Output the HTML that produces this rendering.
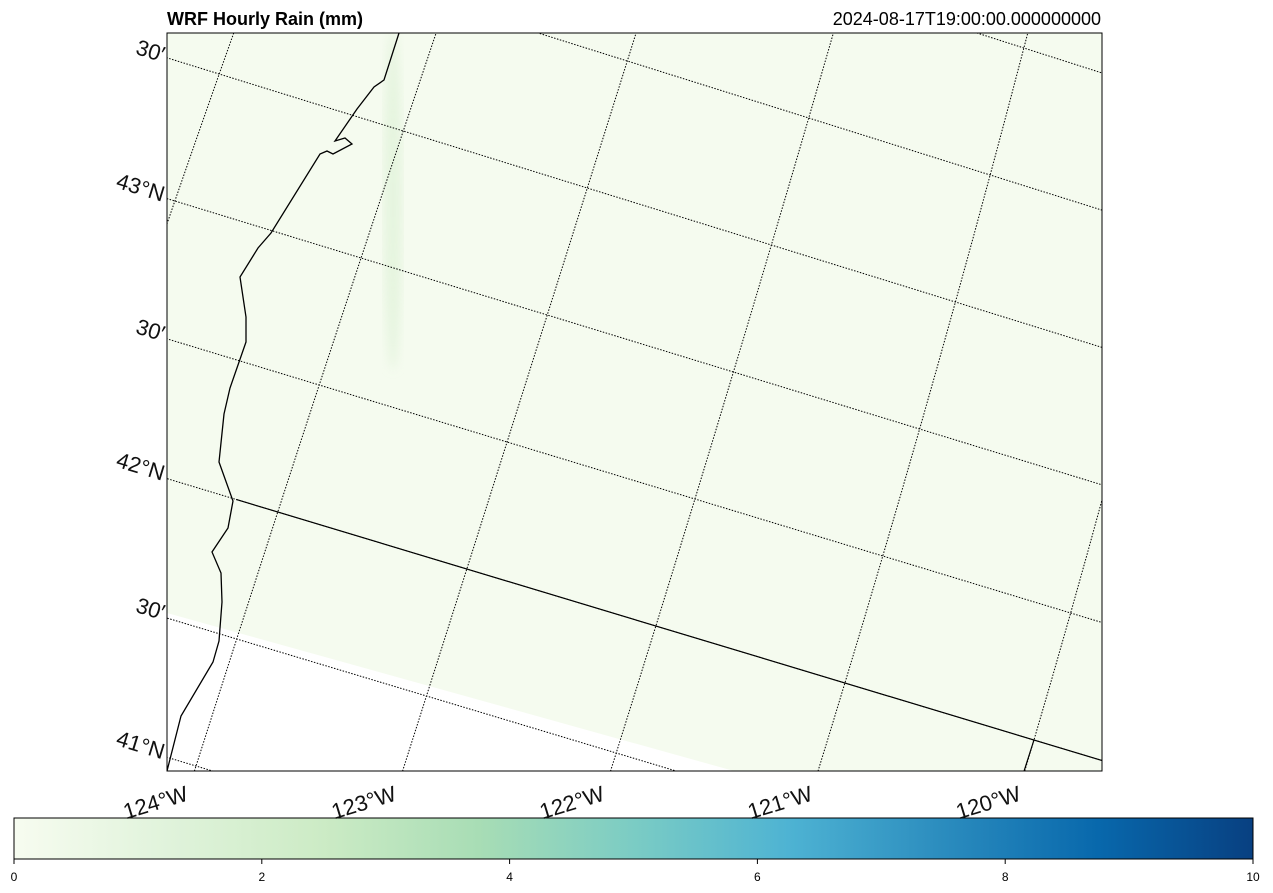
<!DOCTYPE html>
<html><head><meta charset="utf-8"><style>
html,body{margin:0;background:#fff;overflow:hidden;width:1273px;height:893px;}
svg{display:block;font-family:"Liberation Sans",sans-serif;}
</style></head><body>
<svg id="chart" width="1273" height="893" viewBox="0 0 1273 893">
<defs>
<clipPath id="mapclip"><rect x="167" y="33" width="935" height="738"/></clipPath>
<linearGradient id="gnbu" x1="0" x2="1" y1="0" y2="0">
<stop offset="0" stop-color="#f7fcf0"/><stop offset="0.125" stop-color="#e0f3db"/><stop offset="0.25" stop-color="#ccebc5"/><stop offset="0.375" stop-color="#a8ddb5"/><stop offset="0.5" stop-color="#7bccc4"/><stop offset="0.625" stop-color="#4eb3d3"/><stop offset="0.75" stop-color="#2b8cbe"/><stop offset="0.875" stop-color="#0868ac"/><stop offset="1" stop-color="#084081"/>
</linearGradient>
<filter id="blur"><feGaussianBlur stdDeviation="5"/></filter>
</defs>
<text x="167" y="25" font-size="18" font-weight="bold">WRF Hourly Rain (mm)</text>
<text x="1101" y="25" font-size="18" text-anchor="end">2024-08-17T19:00:00.000000000</text>
<g clip-path="url(#mapclip)">
<rect x="167" y="33" width="935" height="738" fill="#f5fbef"/>
<ellipse cx="393" cy="200" rx="9" ry="170" fill="#dff2d8" opacity="0.7" filter="url(#blur)"/>
<polygon points="167,613 734,771 167,771" fill="#ffffff"/>
<g id="grid"></g>
<polyline points="399,33 384,80 374,87 357,109 346,125 335,141 345,138 352,144 333,154 327,151 320,154 271,233 258,248 240,277 246,317 246,342 230,388 224,414 219,462 233,501 228,528 212,552 221,573 222,602 219,641 213,662 181,716 167,771" fill="none" stroke="#000" stroke-width="1.3"/>
<g id="borders"></g>
</g>
<rect x="167" y="33" width="935" height="738" fill="none" stroke="#000" stroke-width="1"/>
<rect x="14" y="818" width="1239" height="41" fill="url(#gnbu)" stroke="#000" stroke-width="1"/>
<g id="cbticks" font-size="12"></g>
<g id="labels" font-size="22" fill="#111"></g>
</svg>
<script>
const latLines = [41, 41.5, 42, 42.5, 43, 43.5, 44, 44.5];
const lonLines = [-125, -124, -123, -122, -121, -120];
const latLabels = ["41°N", "30′", "42°N", "30′", "43°N", "30′"];
const latLabelVals = [41, 41.5, 42, 42.5, 43, 43.5];
const lonLabels = ["124°W", "123°W", "122°W", "121°W", "120°W"];
const lonLabelVals = [-124, -123, -122, -121, -120];
const cbTicks = [0, 2, 4, 6, 8, 10];
const cbMin = 0, cbMax = 10;

const NS = "http://www.w3.org/2000/svg";
function proj(lon, lat) {
  const t = lon + 124, s = lat - 41;
  const corr = -8 * (lon + 123.2) * Math.pow(s / 2.9, 2);
  return [196 + t * 190 + s * 81 + corr, 766 + t * 57 - s * 254];
}
function mk(tag, attrs, parent) {
  const e = document.createElementNS(NS, tag);
  for (const k in attrs) e.setAttribute(k, attrs[k]);
  parent.appendChild(e);
  return e;
}
const grid = document.getElementById('grid');
latLines.forEach(lat => {
  const pts = [];
  for (let lon = -127; lon <= -117; lon += 0.25) pts.push(proj(lon, lat).join(','));
  const e = mk('polyline', {points: pts.join(' '), fill: 'none', stroke: '#000', 'stroke-width': 1, 'stroke-dasharray': '1.5,1.5'}, grid);
  
  
});
lonLines.forEach(lon => {
  const pts = [];
  for (let lat = 40; lat <= 45.5; lat += 0.25) pts.push(proj(lon, lat).join(','));
  const e = mk('polyline', {points: pts.join(' '), fill: 'none', stroke: '#000', 'stroke-width': 1, 'stroke-dasharray': '1.5,1.5'}, grid);
  
  
});
const borders = document.getElementById('borders');
{
  const a = proj(-124.22, 42), b = proj(-117, 42);
  const e = mk('line', {x1: a[0], y1: a[1], x2: b[0], y2: b[1], stroke: '#000', 'stroke-width': 1.2}, borders);
  
  
  const c = proj(-120, 42), d = proj(-120, 40);
  const f = mk('line', {x1: c[0], y1: c[1], x2: d[0], y2: d[1], stroke: '#000', 'stroke-width': 1.2}, borders);
  
  
}
const labels = document.getElementById('labels');
latLabelVals.forEach((lat, i) => {
  const p = proj(-124, lat);
  const y = p[1] + (167 - p[0]) * (57 / 190);
  const e = mk('text', {x: 162, y: y + 2, 'text-anchor': 'end', transform: `rotate(17 162 ${y + 2})`}, labels);
  e.textContent = latLabels[i];
  
  
});
lonLabelVals.forEach((lon, i) => {
  const p = proj(lon, 41);
  const x = p[0] + (p[1] - 771) * (81 / 254);
  const e = mk('text', {x: x - 5, y: 800, 'text-anchor': 'end', transform: `rotate(-17 ${x - 5} 800)`}, labels);
  e.textContent = lonLabels[i];
  
  
});
const cb = document.getElementById('cbticks');
cbTicks.forEach(v => {
  const x = 14 + (v - cbMin) / (cbMax - cbMin) * 1239;
  const l = mk('line', {x1: x, y1: 859, x2: x, y2: 864, stroke: '#000', 'stroke-width': 1}, cb);
  
  
  const t = mk('text', {x: x, y: 881, 'text-anchor': 'middle'}, cb);
  t.textContent = v;
  
  
});
</script>
</body></html>
